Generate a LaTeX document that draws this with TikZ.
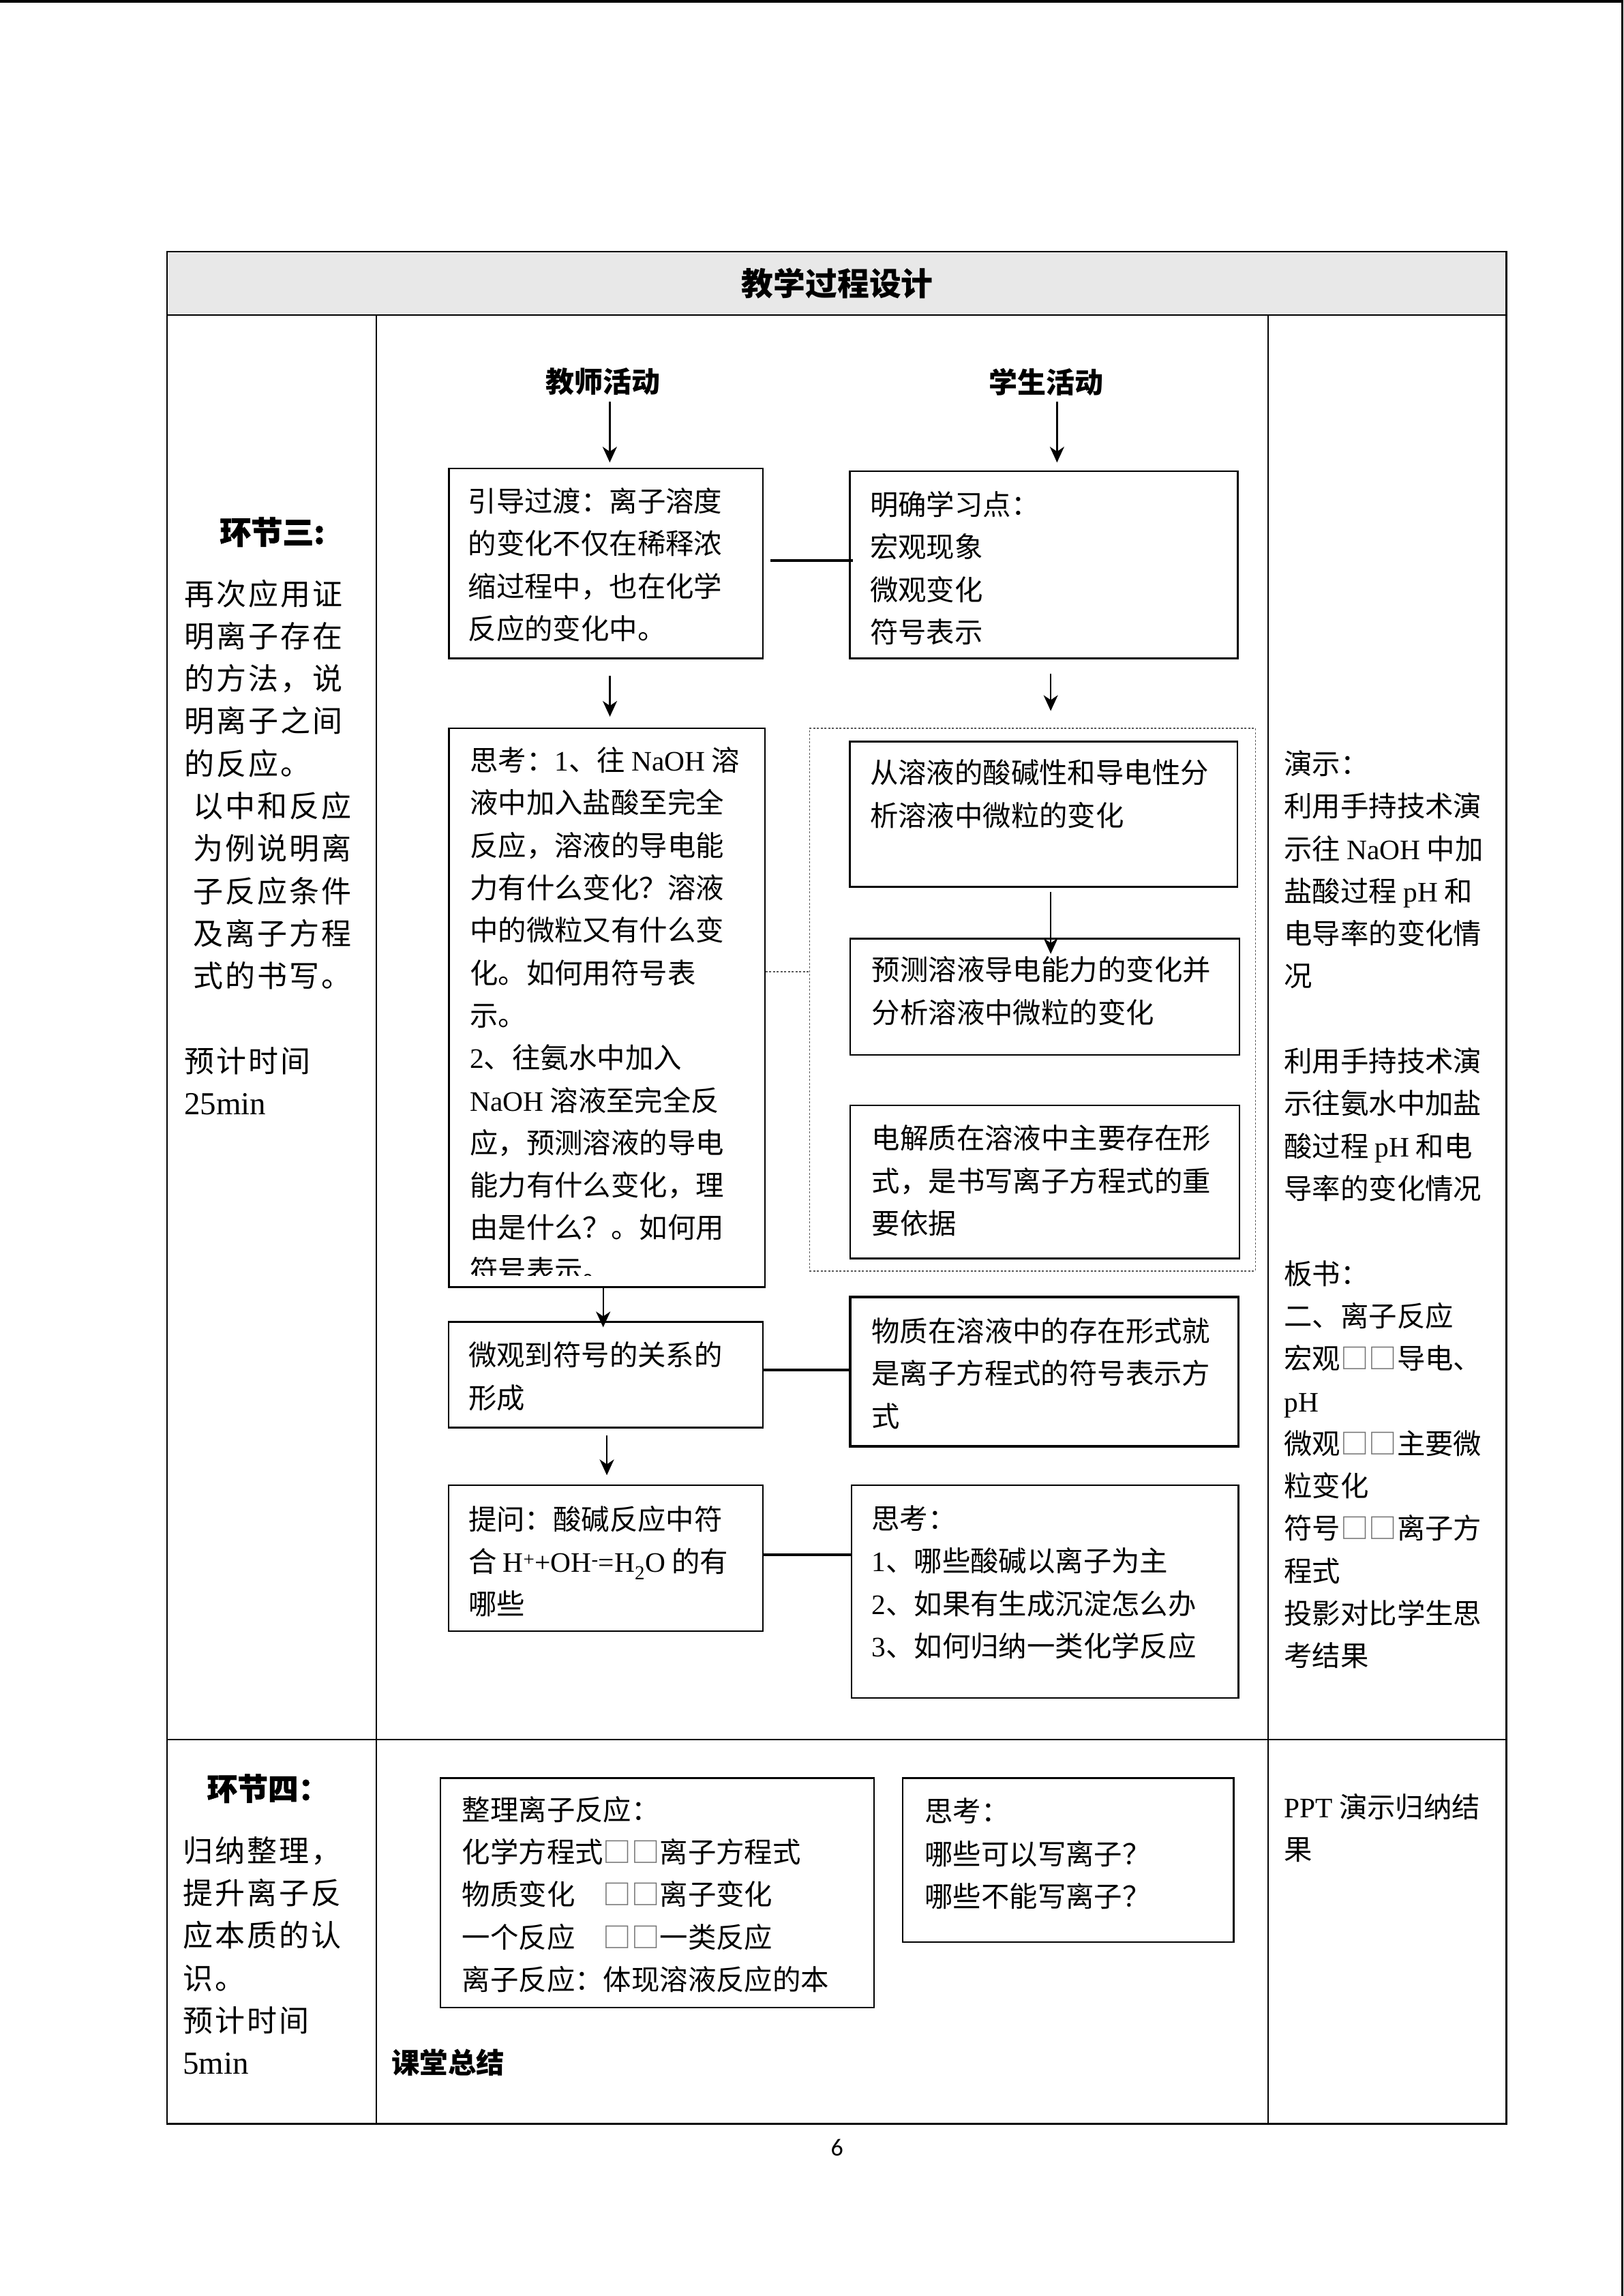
\documentclass[tikz,border=0pt]{standalone}
\usepackage{fontspec}
\setmainfont{Noto Sans CJK SC}
\newfontfamily\latf{Liberation Serif}
\newfontfamily\cjkwide{Noto Sans CJK SC}[LetterSpace=7]
\newfontfamily\heavyf{Noto Sans CJK SC}[BoldFeatures={FakeBold=1.5}]
\newfontfamily\pagef{Carlito}
\usetikzlibrary{arrows.meta,fit}
\newcommand\Ltn[1]{{\latf #1}}
\newcommand\LtnL[1]{{\fontsize{47}{62.3}\selectfont\latf #1}}
\newcommand\sqq{\textcolor{black!55}{□□}}
\tikzset{
  tbl/.style={line width=2.4pt},
  boxn/.style={draw, line width=2.4pt, inner sep=0pt},
  boxthick/.style={draw, line width=3.6pt, inner sep=0pt},
  dashbox/.style={draw=black!65, line width=1.3pt, dash pattern=on 3pt off 2.5pt, inner sep=0pt},
  arr/.style={line width=2.3pt, -{Stealth[length=23pt,width=21pt,inset=7pt]}},
  conn/.style={line width=4pt},
  dotline/.style={draw=black!65, line width=1.3pt, dash pattern=on 3pt off 2.5pt},
  txt/.style={anchor=base west, align=left, inner sep=0pt, font=\fontsize{41.4}{62.3}\selectfont},
  ltxt/.style={anchor=base west, align=left, inner sep=0pt, font=\fontsize{44}{62.3}\selectfont\cjkwide},
  head/.style={inner sep=0pt, font=\fontsize{46.8}{50}\selectfont\bfseries},
  subhead/.style={inner sep=0pt, font=\fontsize{42}{46}\selectfont\bfseries},
}
\begin{document}
% note: the base anchor of a multi-line node is the baseline of its LAST line
\begin{tikzpicture}[x=2.147pt,y=-2.147pt]
\useasboundingbox (0,0) rectangle (1109,1568);
\fill[white] (0,0) rectangle (1109,1568);
% page edge marks
\draw[line width=4pt] (0,0.9) -- (1109,0.9);
\draw[line width=2.4pt] (1108.2,0) -- (1108.2,1568);

% table frame
\fill[black!9] (114.1,171.9) rectangle (1028.9,215.2);
\draw[tbl] (114.1,171.9) rectangle (1028.9,1450.4);
\draw[tbl] (114.1,215.2) -- (1028.9,215.2);
\draw[tbl] (114.1,1188) -- (1028.9,1188);
\draw[tbl] (257.2,215.2) -- (257.2,1450.4);
\draw[tbl] (866.3,215.2) -- (866.3,1450.4);

\node[head] (title) at (572,193.5) {教学过程设计};

% left column
\node[head, font=\fontsize{46}{50}\selectfont\heavyf\bfseries] (h3) at (186,363.3) {环节三:};
\node[ltxt] (l3) at (125.8,761.3) {再次应用证\\明离子存在\\的方法，说\\明离子之间\\的反应。\\\hspace*{13pt}以中和反应\\\hspace*{13pt}为例说明离\\\hspace*{13pt}子反应条件\\\hspace*{13pt}及离子方程\\\hspace*{13pt}式的书写。\\[62.3pt]预计时间\\\LtnL{25min}};
\node[head, font=\fontsize{44.6}{50}\selectfont\heavyf\bfseries] (h4) at (183,1221.4) {环节四：};
\node[ltxt] (l4) at (124.9,1416.5) {归纳整理，\\提升离子反\\应本质的认\\识。\\预计时间\\\LtnL{5min}};

% middle column headers
\node[subhead] (t1) at (411.8,260.8) {教师活动};
\node[subhead] (t2) at (714.8,260.8) {学生活动};
\coordinate (t1a) at (416.5,274.5);
\coordinate (t2a) at (722,274.5);

% boxes
\node[boxn, fit={(306.7,319.8) (521.1,449.6)}] (A) {};
\node[boxn, fit={(580.5,321.7) (845.5,449.6)}] (B) {};
\node[boxn, fit={(306.7,497.3) (522.4,879)}] (C) {};
\node[dashbox, fit={(552.9,497.3) (857.5,868)}] (DB) {};
\node[boxn, fit={(580.4,506.4) (845.1,605.6)}] (D) {};
\node[boxn, fit={(580.8,641) (846.5,720.3)}] (E) {};
\node[boxn, fit={(580.8,755) (846.5,859.4)}] (F) {};
\node[boxn, fit={(306.4,902.7) (521.1,975)}] (G) {};
\node[boxthick, fit={(580.6,885.8) (845.9,987.6)}] (H) {};
\node[boxn, fit={(306.4,1014.2) (521.1,1114)}] (I) {};
\node[boxn, fit={(581.7,1014.2) (845.9,1159.7)}] (J) {};
\node[boxn, fit={(300.7,1214.2) (597.1,1371.1)}] (K) {};
\node[boxn, fit={(616.7,1214.2) (842.6,1326.2)}] (L) {};

% box texts (positions = baseline of last line)
\node[txt] (At) at (319.7,436.6) {引导过渡：离子溶度\\的变化不仅在稀释浓\\缩过程中，也在化学\\反应的变化中。};
\node[txt] (Bt) at (594.2,438.9) {明确学习点：\\宏观现象\\微观变化\\符号表示};
\begin{scope}
\clip (306.7,497.3) rectangle (522.4,871);
\node[txt] (Ct) at (320.9,874.7) {思考：\Ltn{1}、往 \Ltn{NaOH} 溶\\液中加入盐酸至完全\\反应，溶液的导电能\\力有什么变化？溶液\\中的微粒又有什么变\\化。如何用符号表\\示。\\\Ltn{2}、往氨水中加入\\\Ltn{NaOH} 溶液至完全反\\应，预测溶液的导电\\能力有什么变化，理\\由是什么？。如何用\\符号表示。};
\end{scope}
\node[txt] (Dt) at (594.2,564) {从溶液的酸碱性和导电性分\\析溶液中微粒的变化};
\node[txt] (Et) at (595.5,698.6) {预测溶液导电能力的变化并\\分析溶液中微粒的变化};
\node[txt] (Ft) at (595.5,842.6) {电解质在溶液中主要存在形\\式，是书写离子方程式的重\\要依据};
\node[txt] (Gt) at (319.9,961.7) {微观到符号的关系的\\形成};
\node[txt] (Ht) at (595.3,974.3) {物质在溶液中的存在形式就\\是离子方程式的符号表示方\\式};
\node[txt] (It) at (319.9,1102.7) {提问：酸碱反应中符\\合 \Ltn{H\textsuperscript{+}+OH\textsuperscript{-}=H\textsubscript{2}O} 的有\\哪些};
\node[txt] (Jt) at (595.3,1131.4) {思考：\\\Ltn{1}、哪些酸碱以离子为主\\\Ltn{2}、如果有生成沉淀怎么办\\\Ltn{3}、如何归纳一类化学反应};
\node[txt] (Kt) at (315.6,1359.1) {整理离子反应：\\化学方程式\sqq{}离子方程式\\物质变化　\sqq{}离子变化\\一个反应　\sqq{}一类反应\\离子反应：体现溶液反应的本};
\node[txt] (Lt) at (631.6,1302.3) {思考：\\哪些可以写离子？\\哪些不能写离子？};
\node[txt, font=\fontsize{41.4}{62.3}\selectfont\bfseries] (sum) at (267.4,1415.8) {课堂总结};

% right column
\node[txt] (R3) at (877,1138.1) {演示：\\利用手持技术演\\示往 \Ltn{NaOH} 中加\\盐酸过程 \Ltn{pH} 和\\电导率的变化情\\况\\[62.3pt]利用手持技术演\\示往氨水中加盐\\酸过程 \Ltn{pH} 和电\\导率的变化情况\\[62.3pt]板书：\\二、离子反应\\宏观\sqq{}导电、\\\Ltn{pH}\\微观\sqq{}主要微\\粒变化\\符号\sqq{}离子方\\程式\\投影对比学生思\\考结果};
\node[txt] (R4) at (877,1270.1) {\Ltn{PPT} 演示归纳结\\果};

% connectors
\draw[arr, shorten >=7.3pt] (t1a) -- (A.north -| t1a);
\draw[arr, shorten >=11.4pt] (t2a) -- (B.north -| t2a);
\coordinate (xa) at (416.6,0);
\coordinate (xb) at (717.7,0);
\coordinate (xc) at (412,0);
\coordinate (xg) at (414.5,0);
\draw[arr, shorten <=24.7pt, shorten >=15.7pt] (A.south -| xa) -- (C.north -| xa);
\draw[arr, shorten <=21.3pt, shorten >=24.7pt] (B.south -| xb) -- (DB.north -| xb);
\draw[arr, shorten <=6pt, shorten >=-23.6pt] (D.south -| xb) -- (E.north -| xb);
\draw[arr, shorten >=-9.2pt] (C.south -| xc) -- (G.north -| xc);
\draw[arr, shorten <=9.7pt, shorten >=13.3pt] (G.south -| xg) -- (I.north -| xg);
\coordinate (ab) at (0,382.9);
\draw[conn, shorten <=10.3pt, shorten >=-5.2pt] (A.east |- ab) -- (B.west |- ab);
\coordinate (gh) at (0,935.6);
\draw[conn] (G.east |- gh) -- (H.west |- gh);
\coordinate (ij) at (0,1061.7);
\draw[conn, shorten <=-2pt] (I.east |- ij) -- (J.west |- ij);
\coordinate (cd) at (0,663.6);
\draw[dotline] (C.east |- cd) -- (DB.west |- cd);

% page number
\node[inner sep=0pt, font=\fontsize{36}{40}\selectfont\pagef] (pg) at (571.8,1466.5) {6};
\end{tikzpicture}
\end{document}
